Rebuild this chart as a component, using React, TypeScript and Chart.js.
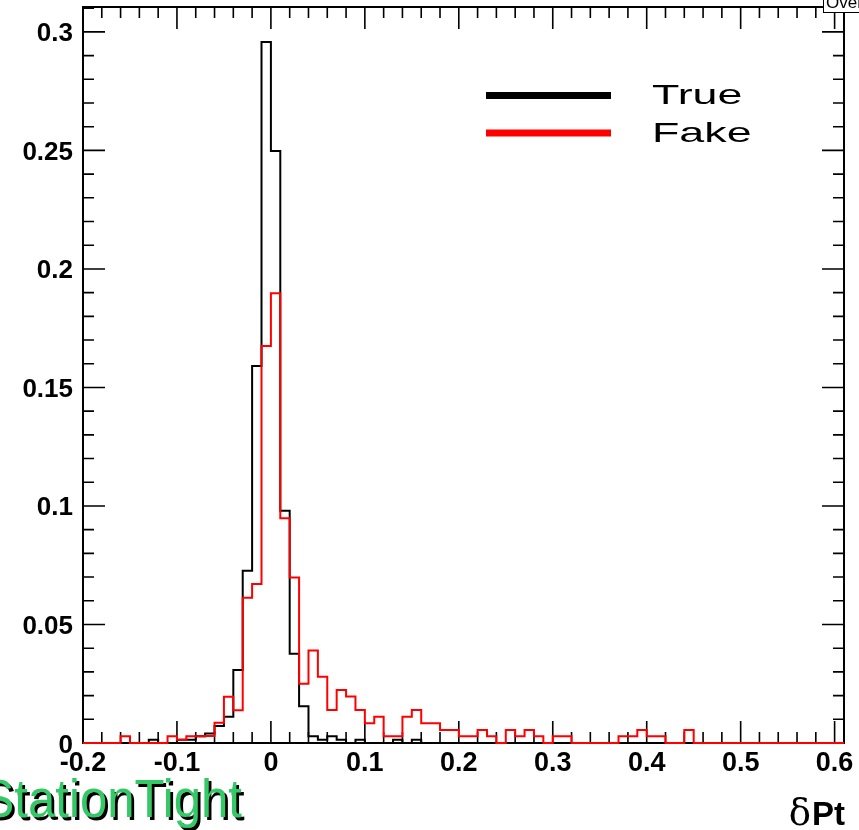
import React, { useEffect, useRef } from "react";
import { Chart, registerables } from "chart.js";

Chart.register(...registerables);

// ---------- data ----------
const BIN_START = -0.2;
const BIN_WIDTH = 0.01;
const X_MIN = -0.2;
const X_MAX = 0.61;
const Y_MIN = 0;
const Y_MAX = 0.3105;

// bin contents, one per 0.01-wide bin starting at -0.20
const trueValues = [
  0, 0, 0, 0, 0, 0, 0, 0.0014, 0, 0,
  0.0014, 0.0014, 0.0028, 0.004, 0.0072, 0.0111, 0.0308, 0.0727, 0.159, 0.2957,
  0.2498, 0.098, 0.0376, 0.0155, 0.0028, 0.0014, 0.0028, 0.0014, 0, 0.0014,
  0, 0, 0, 0.0014, 0, 0.0014, 0, 0, 0, 0,
  0, 0, 0, 0, 0, 0, 0, 0, 0, 0,
  0, 0, 0, 0, 0, 0, 0, 0, 0, 0,
  0, 0, 0, 0, 0, 0, 0, 0, 0, 0,
  0, 0, 0, 0, 0, 0, 0, 0, 0, 0,
  0,
];
const fakeValues = [
  0, 0, 0, 0, 0.0028, 0, 0, 0, 0, 0.0028,
  0.0014, 0.0028, 0.0028, 0.003, 0.0085, 0.0195, 0.0138, 0.0613, 0.0671, 0.1675,
  0.1897, 0.0948, 0.0698, 0.025, 0.039, 0.028, 0.0139, 0.0224, 0.0196, 0.0139,
  0.0083, 0.0111, 0.0028, 0.0028, 0.0111, 0.0139, 0.0083, 0.0083, 0.0055, 0.0055,
  0.0028, 0.0028, 0.0055, 0.0028, 0, 0.0055, 0.0028, 0.0055, 0.0028, 0,
  0.0028, 0.0028, 0, 0, 0, 0, 0, 0.0028, 0.0028, 0.0055,
  0.0028, 0.0028, 0, 0, 0.0055, 0, 0, 0, 0, 0,
  0, 0, 0, 0, 0, 0, 0, 0, 0, 0,
  0,
];

const seriesNames = ["True", "Fake"];
const seriesColors = ["#000000", "#ff0000"];
const xTickLabels = ["-0.2", "-0.1", "0", "0.1", "0.2", "0.3", "0.4", "0.5", "0.6"];
const yTickLabels = ["0", "0.05", "0.1", "0.15", "0.2", "0.25", "0.3"];
const X_MINOR_STEP = 0.02;
const Y_MINOR_STEP = 0.01;
const selectionText = "StationTight";
const xTitleGreek = "\u03b4";
const xTitleText = "Pt";
const statsText = "Overflow";

const xTickValues = xTickLabels.map(parseFloat);
const yTickValues = yTickLabels.map(parseFloat);

function histPoints(values: number[]) {
  const pts = values.map((v, i) => ({ x: +(BIN_START + i * BIN_WIDTH).toFixed(4), y: v }));
  pts.push({ x: +(BIN_START + values.length * BIN_WIDTH).toFixed(4), y: values[values.length - 1] });
  return pts;
}

const SANS = "'Liberation Sans', Arial, Helvetica, sans-serif";

const rootStyle = {
  id: "rootStyle",
  beforeDatasetsDraw(chart: any) {
    const { ctx, chartArea: a } = chart;
    const x = chart.scales.x;
    const y = chart.scales.y;
    ctx.save();
    ctx.strokeStyle = "#000";
    ctx.lineWidth = 2;
    ctx.strokeRect(a.left, a.top, a.right - a.left, a.bottom - a.top);
    ctx.lineWidth = 1.6;
    ctx.beginPath();
    for (let k = 0; ; k++) {
      const v = X_MIN + k * X_MINOR_STEP;
      if (v > X_MAX + 1e-9) break;
      const px = x.getPixelForValue(v);
      const major = xTickValues.some((t) => Math.abs(t - v) < 1e-6);
      const len = major ? 22 : 11;
      ctx.moveTo(px, a.bottom);
      ctx.lineTo(px, a.bottom - len);
      ctx.moveTo(px, a.top);
      ctx.lineTo(px, a.top + len);
    }
    for (let k = 0; ; k++) {
      const v = Y_MIN + k * Y_MINOR_STEP;
      if (v > Y_MAX + 1e-9) break;
      const py = y.getPixelForValue(v);
      const major = yTickValues.some((t) => Math.abs(t - v) < 1e-6);
      const len = major ? 22 : 11;
      ctx.moveTo(a.left, py);
      ctx.lineTo(a.left + len, py);
      ctx.moveTo(a.right, py);
      ctx.lineTo(a.right - len, py);
    }
    ctx.stroke();
    ctx.restore();
  },
  afterDraw(chart: any) {
    const { ctx, chartArea: a } = chart;
    const x = chart.scales.x;
    const y = chart.scales.y;
    ctx.save();
    ctx.fillStyle = "#000";
    // y tick labels
    ctx.font = `bold 26px ${SANS}`;
    ctx.textAlign = "right";
    ctx.textBaseline = "alphabetic";
    yTickLabels.forEach((lab, i) => {
      const py = y.getPixelForValue(yTickValues[i]);
      ctx.fillText(lab, a.left - 10, py + 9.5);
    });
    // x tick labels
    ctx.font = `bold 27px ${SANS}`;
    ctx.textAlign = "center";
    xTickLabels.forEach((lab, i) => {
      const px = x.getPixelForValue(xTickValues[i]);
      ctx.fillText(lab, px, a.bottom + 28);
    });

    // legend
    const legendX0 = 486;
    const legendX1 = 611;
    const rows = [95.5, 133];
    seriesNames.forEach((name, i) => {
      ctx.strokeStyle = seriesColors[i];
      ctx.lineWidth = 7;
      ctx.beginPath();
      ctx.moveTo(legendX0, rows[i]);
      ctx.lineTo(legendX1, rows[i]);
      ctx.stroke();
      ctx.save();
      ctx.font = `28px ${SANS}`;
      ctx.textAlign = "left";
      ctx.fillStyle = "#000";
      ctx.translate(652, rows[i] + 8.5);
      ctx.scale(1.6, 1);
      ctx.fillText(name, 0, 0);
      ctx.restore();
    });

    // x title
    ctx.textAlign = "left";
    ctx.font = `bold 33px ${SANS}`;
    const ptW = ctx.measureText(xTitleText).width;
    ctx.fillText(xTitleText, a.right + 1 - ptW, 825);
    ctx.font = `37px 'DejaVu Serif', 'Liberation Serif', serif`;
    const dW = ctx.measureText(xTitleGreek).width;
    ctx.fillText(xTitleGreek, a.right + 1 - ptW - dW - 1, 825);

    // selection label with shadow
    ctx.save();
    ctx.font = `54px ${SANS}`;
    ctx.textAlign = "right";
    ctx.translate(242, 817);
    ctx.scale(0.91, 1);
    ctx.fillStyle = "#000";
    ctx.fillText(selectionText, 3, 3);
    ctx.fillStyle = "#35c866";
    ctx.fillText(selectionText, 0, 0);
    ctx.restore();

    // clipped stats box in the corner
    ctx.fillStyle = "#fff";
    ctx.fillRect(823, -2, 60, 14.5);
    ctx.strokeStyle = "#000";
    ctx.lineWidth = 1;
    ctx.strokeRect(823.5, -2, 60, 14.5);
    ctx.fillStyle = "#000";
    ctx.font = `17px ${SANS}`;
    ctx.textAlign = "left";
    ctx.fillText(statsText, 826, 7.5);
    ctx.restore();
  },
};

export default function App() {
  const ref = useRef<HTMLCanvasElement | null>(null);
  useEffect(() => {
    document.body.style.margin = "0";
    const canvas = ref.current;
    if (!canvas) return;
    const chart = new Chart(canvas, {
      type: "line",
      data: {
        datasets: [
          {
            label: seriesNames[0],
            data: histPoints(trueValues),
            borderColor: seriesColors[0],
            borderWidth: 2,
            stepped: "before",
            pointRadius: 0,
            fill: false,
            order: 1,
            clip: false,
          } as any,
          {
            label: seriesNames[1],
            data: histPoints(fakeValues),
            borderColor: seriesColors[1],
            borderWidth: 2,
            stepped: "before",
            pointRadius: 0,
            fill: false,
            order: 0,
            clip: false,
          } as any,
        ],
      },
      options: {
        animation: false,
        responsive: false,
        devicePixelRatio: 1,
        layout: { padding: { left: 83, right: 15, top: 7, bottom: 87 } },
        plugins: { legend: { display: false }, tooltip: { enabled: false } },
        scales: {
          x: { type: "linear", min: X_MIN, max: X_MAX, display: false },
          y: { type: "linear", min: Y_MIN, max: Y_MAX, display: false },
        },
      },
      plugins: [rootStyle],
    });
    return () => chart.destroy();
  }, []);
  return (
    <div style={{ width: 859, height: 830, background: "#fff" }}>
      <canvas ref={ref} width={859} height={830} style={{ display: "block" }} />
    </div>
  );
}
